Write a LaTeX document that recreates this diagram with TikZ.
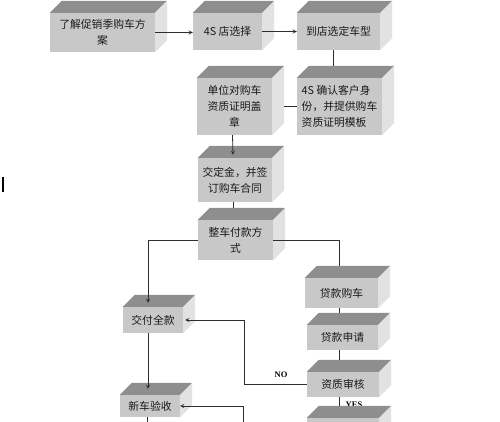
\documentclass[tikz,border=0pt]{standalone}
\usepackage{fontspec}
\setmainfont{Noto Sans CJK SC}
\newfontfamily\latinbold{Liberation Serif}
\usepackage{tikz}
\usetikzlibrary{calc}
\definecolor{caraFrente}{HTML}{C8C8C8}
\definecolor{caraArriba}{HTML}{8E8E8E}
\definecolor{caraLado}{HTML}{E2E2E2}
\definecolor{lineaGris}{HTML}{2E2E2E}
\tikzstyle{nodoPaso} = [rectangle, fill=caraFrente, inner sep=0pt, align=center, text=black!90, font=\fontsize{10.8pt}{16pt}\selectfont]
\tikzstyle{nodoEtiq} = [inner sep=0pt, font=\latinbold\bfseries\fontsize{8.5pt}{9pt}\selectfont]
\tikzstyle{linea} = [draw=lineaGris, line width=0.8pt]
\tikzstyle{flecha} = [linea, -stealth]

\begin{document}
\begin{tikzpicture}[x=1pt, y=-1pt]
    \useasboundingbox (0,0) rectangle (500,422);
    \clip (0,0) rectangle (500,422);

    \node (Promo) [nodoPaso, minimum width=105pt, minimum height=39pt] at (102.5,32.5) {了解促销季购车方\\案};
    \node (Tienda) [nodoPaso, minimum width=69pt, minimum height=37pt] at (227.5,31.5) {4S 店选择};
    \node (Modelo) [nodoPaso, minimum width=83pt, minimum height=37pt] at (338.5,31.5) {到店选定车型};

    \node (Sello) [nodoPaso, minimum width=75pt, minimum height=57pt] at (234.5,106.5) {单位对购车\\资质证明盖\\章};
    \node (Ident) [nodoPaso, minimum width=85pt, minimum height=57pt, align=left] at (339.5,106.5) {4S 确认客户身\\份，并提供购车\\资质证明模板};

    \node (Deposito) [nodoPaso, minimum width=74pt, minimum height=44pt] at (235,180) {交定金，并签\\订购车合同};
    \node (Pago) [nodoPaso, minimum width=75pt, minimum height=40pt] at (235.5,240) {整车付款方\\式};

    \node (Total) [nodoPaso, minimum width=60pt, minimum height=26pt] at (153,320) {交付全款};
    \node (Entrega) [nodoPaso, minimum width=60pt, minimum height=22pt] at (150,406) {新车验收};

    \node (Credito) [nodoPaso, minimum width=73pt, minimum height=30pt] at (341.5,293) {贷款购车};
    \node (Solicitud) [nodoPaso, minimum width=71pt, minimum height=25pt] at (342.5,337.5) {贷款申请};
    \node (Revision) [nodoPaso, minimum width=72pt, minimum height=25pt] at (343,384.5) {资质审核};
    \node (Siguiente) [nodoPaso, minimum width=72pt, minimum height=26pt] at (343,431) {};

    \node (Si) [nodoEtiq] at (354,404.3) {YES};

    % caras superior y lateral
    \foreach \n in {Promo,Tienda,Modelo,Sello,Ident,Deposito,Pago,Total,Entrega,Credito,Solicitud,Revision,Siguiente} {
        \fill[caraArriba] (\n.north west) -- ++(12pt,12pt) -- ([shift={(12pt,12pt)}]\n.north east) -- (\n.north east) -- cycle;
        \fill[caraLado] (\n.north east) -- ++(12pt,12pt) -- ([shift={(12pt,12pt)}]\n.south east) -- (\n.south east) -- cycle;
    }

    \coordinate (Giro) at (244,320);
    \coordinate (Abajo) at (243,430);
    \coordinate (Fin) at (147,430);

    \draw[flecha] (Promo.east) -- (Promo.east -| Tienda.west);
    \draw[flecha] (Tienda.east) -- (Modelo.west);
    \draw[linea] ([xshift=-5pt]Modelo.south) -- ([xshift=-6pt,yshift=12pt]Ident.north);
    \draw[linea] ([xshift=12pt]Sello.east) -- (Ident.west);
    \draw[flecha] ([xshift=-2pt]Sello.south) -- ([xshift=-2pt,yshift=3pt]Deposito.north);
    \draw[linea] ([xshift=-2pt]Deposito.south) -- ([xshift=-2.5pt,yshift=12pt]Pago.north);
    \draw[flecha] (Pago.west) -| ([xshift=-5pt,yshift=4pt]Total.north);
    \draw[linea] (Pago.east) -| ([xshift=-2.5pt,yshift=12pt]Credito.north);
    \draw[linea] ([xshift=-2.5pt]Credito.south) -- ([xshift=-3.5pt,yshift=12pt]Solicitud.north);
    \draw[linea] ([xshift=-3.5pt]Solicitud.south) -- ([xshift=-4pt,yshift=12pt]Revision.north);
    \draw[linea] ([xshift=-4pt]Revision.south) -- ([xshift=-4pt,yshift=12pt]Siguiente.north);
    \draw[flecha] (Revision.west) -| (Giro) -- ([xshift=2pt]Total.east);
    \node (No) [nodoEtiq] at (281,374.5) {NO};
    \draw[flecha] ([xshift=-5pt]Total.south) -- ([xshift=-2pt,yshift=6pt]Entrega.north);
    \draw[flecha] (Abajo) |- (Entrega.east);
    \draw[linea] ([xshift=-3pt]Entrega.south) -- (Fin);

    \draw[line width=1.5pt] (3,177) -- (3,192);
\end{tikzpicture}
\end{document}
